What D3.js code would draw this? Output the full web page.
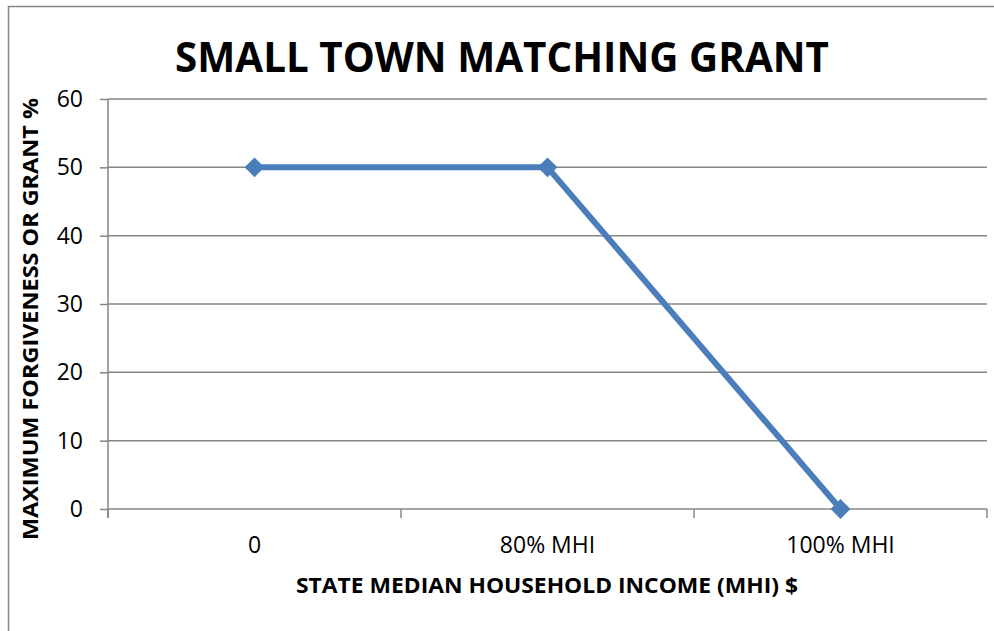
<!DOCTYPE html>
<html>
<head>
<meta charset="utf-8">
<script src="https://cdn.jsdelivr.net/npm/d3@7"></script>
<style>
  body { margin: 0; background: #fff; }
  svg { display: block; }
</style>
</head>
<body>
<svg id="chart" width="994" height="631"></svg>
<script>
const categories = ["0", "80% MHI", "100% MHI"]
const grantPct = [50, 50, 0]
const yTicks = [0, 10, 20, 30, 40, 50, 60]

const titleText = "SMALL TOWN MATCHING GRANT"
const xTitleText = "STATE MEDIAN HOUSEHOLD INCOME (MHI) $"
const yTitleText = "MAXIMUM FORGIVENESS OR GRANT %"

const gridColor = "#868686"
const lineColor = "#4A7EBB"
const font = "'Open Sans', 'Liberation Sans', sans-serif"

const plot = {left: 108, right: 987, top: 99, bottom: 509}

const svg = d3.select("#chart")

// outer chart frame, runs off the right and bottom edge
svg.append("rect")
  .attr("x", 8.5).attr("y", 6.5)
  .attr("width", 1100).attr("height", 800)
  .attr("fill", "none")
  .attr("stroke", gridColor)
  .attr("stroke-width", 1.5)

const x = d3.scaleBand()
  .domain(categories)
  .range([plot.left, plot.right])
  .padding(0)

const y = d3.scaleLinear()
  .domain([0, 60])
  .range([plot.bottom, plot.top])

// gridlines
svg.append("g")
  .selectAll("line")
  .data(yTicks)
  .join("line")
    .attr("x1", plot.left).attr("x2", plot.right)
    .attr("y1", d => y(d)).attr("y2", d => y(d))
    .attr("stroke", gridColor)
    .attr("stroke-width", 1.5)

// y axis
const yAxis = svg.append("g")
  .attr("transform", `translate(${plot.left},0)`)
  .call(d3.axisLeft(y).tickValues(yTicks).tickSize(8).tickPadding(17))
yAxis.select(".domain").remove()
yAxis.append("line")
  .attr("y1", plot.top).attr("y2", plot.bottom + 9)
  .attr("stroke", gridColor).attr("stroke-width", 1.5)
yAxis.selectAll(".tick line").attr("stroke", gridColor).attr("stroke-width", 1.5)
yAxis.selectAll(".tick text")
  .attr("font-family", font)
  .attr("font-size", 23)
  .attr("fill", "#000")

// x axis: labels at band centres, tick marks at band edges
const xAxis = svg.append("g")
  .attr("transform", `translate(0,${plot.bottom})`)
  .call(d3.axisBottom(x).tickSize(0))
xAxis.select(".domain").remove()
xAxis.selectAll(".tick text")
  .attr("y", 44).attr("dy", null)
  .attr("font-family", font)
  .attr("font-size", 23)
  .attr("fill", "#000")
const edges = categories.map(c => x(c)).concat([x.range()[1]])
xAxis.selectAll(".edge")
  .data(edges)
  .join("line")
    .attr("class", "edge")
    .attr("x1", d => d).attr("x2", d => d)
    .attr("y1", 0).attr("y2", 9)
    .attr("stroke", gridColor).attr("stroke-width", 1.5)

// series
const cx = d => x(d) + x.bandwidth() / 2
const pts = categories.map((c, i) => [cx(c), y(grantPct[i])])

svg.append("path")
  .datum(pts)
  .attr("d", d3.line())
  .attr("fill", "none")
  .attr("stroke", lineColor)
  .attr("stroke-width", 6)
  .attr("stroke-linejoin", "round")

svg.append("g")
  .selectAll("path")
  .data(pts)
  .join("path")
    .attr("transform", d => `translate(${d[0]},${d[1]})`)
    .attr("d", d3.symbol(d3.symbolDiamond2, 250))
    .attr("fill", lineColor)

// titles
function fit(sel, width){
  sel.attr("textLength", width).attr("lengthAdjust", "spacingAndGlyphs")
}

svg.append("text")
  .attr("x", 502).attr("y", 72)
  .attr("text-anchor", "middle")
  .attr("font-family", font)
  .attr("font-weight", "bold")
  .attr("font-size", 41)
  .attr("fill", "#000")
  .text(titleText)
  .call(fit, 654)

svg.append("text")
  .attr("x", 547).attr("y", 593)
  .attr("text-anchor", "middle")
  .attr("font-family", font)
  .attr("font-weight", "bold")
  .attr("font-size", 22)
  .attr("fill", "#000")
  .text(xTitleText)
  .call(fit, 502)

svg.append("text")
  .attr("transform", "translate(38,319) rotate(-90)")
  .attr("text-anchor", "middle")
  .attr("font-family", font)
  .attr("font-weight", "bold")
  .attr("font-size", 22)
  .attr("fill", "#000")
  .text(yTitleText)
  .call(fit, 442)
</script>
</body>
</html>
